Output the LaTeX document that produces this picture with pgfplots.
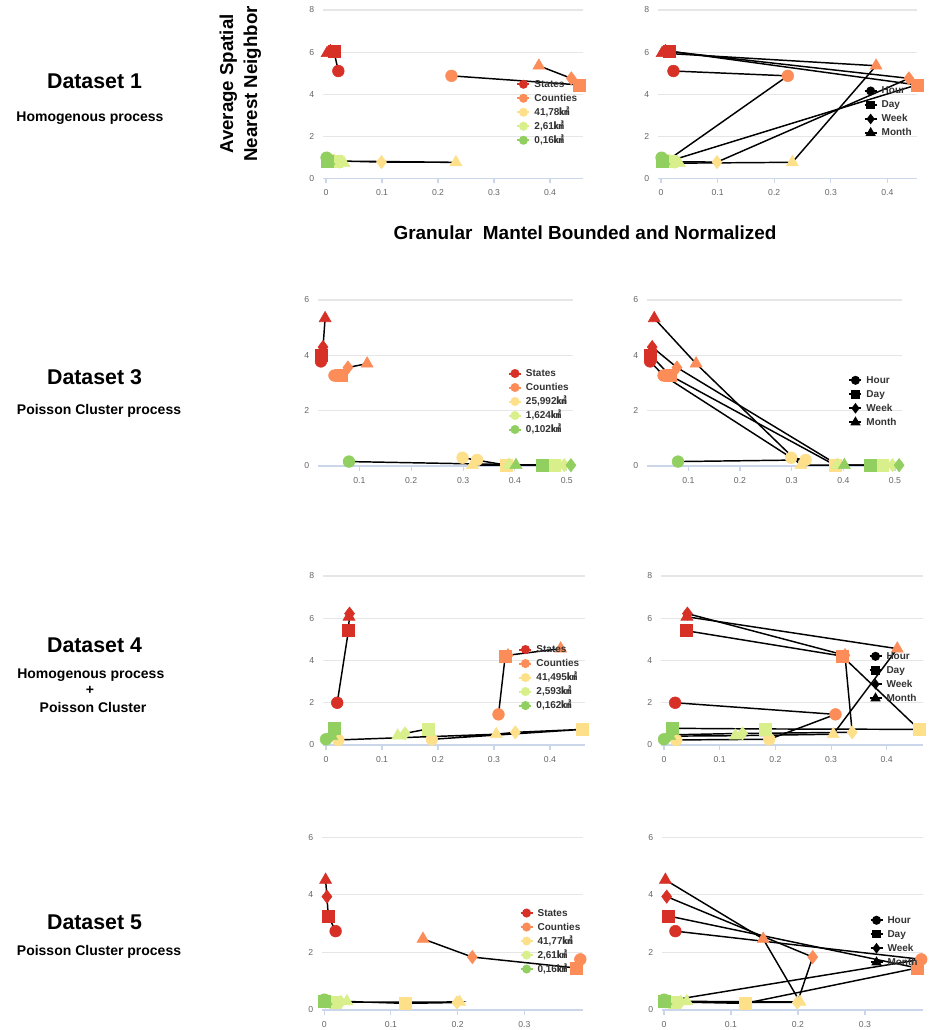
\documentclass[border=0pt]{standalone}
\usepackage{fontspec}
\setmainfont{Liberation Sans}
\newfontfamily\cjk{Noto Sans CJK KR}
\usepackage{pgfplots}
\pgfplotsset{compat=1.18}
\usepackage{pgfplotstable}

\definecolor{cS}{RGB}{215,48,39}
\definecolor{cC}{RGB}{252,141,89}
\definecolor{cY}{RGB}{254,224,139}
\definecolor{cL}{RGB}{217,239,139}
\definecolor{cG}{RGB}{145,207,96}
\definecolor{gridc}{RGB}{230,230,230}
\definecolor{axisc}{RGB}{204,214,235}
\definecolor{tickc}{RGB}{102,102,102}
\definecolor{legc}{RGB}{51,51,51}

% rows: States H D W M, Counties H D W M, large cell H D W M, middle cell, small cell
\pgfplotstableread{
x y
0.022 5.10
0.014 6.05
0.008 6.05
0.002 5.95
0.224 4.87
0.452 4.44
0.438 4.75
0.380 5.35
0.012 0.86
0.016 0.83
0.099 0.77
0.232 0.76
0.014 0.82
0.019 0.80
0.024 0.79
0.032 0.72
0.001 0.98
0.003 0.82
0.004 0.82
0.005 0.82
}\dA
\pgfplotstableread{
x y
0.026 3.78
0.027 4.00
0.030 4.30
0.034 5.34
0.052 3.27
0.065 3.27
0.078 3.56
0.115 3.70
0.299 0.30
0.384 0.03
0.390 0.03
0.318 0.03
0.327 0.22
0.475 0.03
0.495 0.03
0.388 0.03
0.080 0.16
0.453 0.03
0.508 0.03
0.402 0.03
}\dC
\pgfplotstableread{
x y
0.020 2.00
0.040 5.41
0.042 6.22
0.041 6.07
0.308 1.45
0.320 4.21
0.325 4.25
0.419 4.56
0.189 0.27
0.458 0.74
0.338 0.60
0.304 0.51
0.022 0.24
0.182 0.76
0.141 0.55
0.128 0.44
0.000 0.27
0.014 0.79
0.010 0.48
0.010 0.42
}\dD
\pgfplotstableread{
x y
0.017 2.74
0.006 3.27
0.004 3.94
0.002 4.52
0.384 1.76
0.378 1.46
0.222 1.84
0.148 2.47
0.006 0.32
0.121 0.23
0.199 0.26
0.203 0.28
0.012 0.27
0.016 0.28
0.025 0.28
0.034 0.30
0.000 0.36
0.000 0.30
0.002 0.30
0.003 0.30
}\dE

\pgfplotsset{
  base/.style={
    scale only axis, clip=false,
    axis x line*=bottom, axis y line*=left,
    y axis line style={draw=none},
    x axis line style={draw=axisc, line width=0.8pt},
    ymajorgrids, grid style={draw=gridc, line width=0.8pt},
    xtick align=outside, ytick style={draw=none},
    xtick style={draw=axisc, line width=0.8pt},
    major tick length=3.75pt,
    tick label style={font=\fontsize{6.5}{7}\selectfont, text=tickc},
    yticklabel style={xshift=-3pt},
    xticklabel style={yshift=-1pt},
    /pgf/number format/assume math mode=true,
    colormap={res}{rgb255=(215,48,39) rgb255=(252,141,89) rgb255=(254,224,139) rgb255=(217,239,139) rgb255=(145,207,96)},
    point meta min=0, point meta max=4,
    legend cell align=left,
    legend image code/.code={\draw[mark repeat=2,mark phase=2,##1] plot coordinates {(0pt,0pt) (4.5pt,0pt) (9pt,0pt)};},
    legend style={draw=none, fill=none, inner sep=0pt, anchor=north west,
      font=\bfseries\fontsize{7.5}{8}\selectfont, text=legc, row sep=2pt,
      nodes={inner sep=0.5pt, text height=6pt, text depth=1.5pt},
      /tikz/every odd column/.append style={column sep=2.5pt}},
  },
  lin/.style={black, line width=1.1pt, no marks, forget plot},
  mk/.style={scatter, only marks, forget plot, point meta={floor(\coordindex/4)},
    scatter/use mapped color={draw=mapped color, fill=mapped color}},
  legl/.style={line width=1.5pt, mark=*, mark size=2.6pt},
}

\newcommand\leftlines[1]{%
  \addplot[lin, x filter/.expression={floor(\coordindex/4)==0 ? x : nan}] table {#1};
  \addplot[lin, x filter/.expression={floor(\coordindex/4)==1 ? x : nan}] table {#1};
  \addplot[lin, x filter/.expression={floor(\coordindex/4)==2 ? x : nan}] table {#1};
  \addplot[lin, x filter/.expression={floor(\coordindex/4)==3 ? x : nan}] table {#1};
  \addplot[lin, x filter/.expression={floor(\coordindex/4)==4 ? x : nan}] table {#1};}
\newcommand\rightlines[1]{%
  \addplot[lin, x filter/.expression={mod(\coordindex,4)==0 ? x : nan}] table {#1};
  \addplot[lin, x filter/.expression={mod(\coordindex,4)==1 ? x : nan}] table {#1};
  \addplot[lin, x filter/.expression={mod(\coordindex,4)==2 ? x : nan}] table {#1};
  \addplot[lin, x filter/.expression={mod(\coordindex,4)==3 ? x : nan}] table {#1};}
\newcommand\allmarks[1]{%
  \addplot[mk, mark=*, mark size=4.4pt, x filter/.expression={mod(\coordindex,4)==0 ? x : nan}] table {#1};
  \addplot[mk, mark=square*, mark size=4.5pt, x filter/.expression={mod(\coordindex,4)==1 ? x : nan}] table {#1};
  \addplot[mk, mark=diamond*, mark size=5pt, x filter/.expression={mod(\coordindex,4)==2 ? x : nan}] table {#1};
  \addplot[mk, mark=triangle*, mark size=5.2pt, x filter/.expression={mod(\coordindex,4)==3 ? x : nan}] table {#1};}
\newcommand\reslegend[3]{%
  \addlegendimage{legl, color=cS}\addlegendentry{States}
  \addlegendimage{legl, color=cC}\addlegendentry{Counties}
  \addlegendimage{legl, color=cY}\addlegendentry{{#1}{\cjk ㎢}}
  \addlegendimage{legl, color=cL}\addlegendentry{{#2}{\cjk ㎢}}
  \addlegendimage{legl, color=cG}\addlegendentry{{#3}{\cjk ㎢}}}
\newcommand\timelegend{%
  \addlegendimage{legl, black, mark=*}\addlegendentry{Hour}
  \addlegendimage{legl, black, mark=square*, mark size=2.4pt}\addlegendentry{Day}
  \addlegendimage{legl, black, mark=diamond*, mark size=2.8pt}\addlegendentry{Week}
  \addlegendimage{legl, black, mark=triangle*, mark size=3pt}\addlegendentry{Month}}

\begin{document}
\begin{tikzpicture}
\path[use as bounding box] (0pt,0pt) rectangle (696pt,-772.5pt);

% left column texts
\node[font=\bfseries\fontsize{16}{19}\selectfont] at (70.9pt,-60.75pt) {Dataset 1};
\node[font=\fontsize{10.5}{12}\selectfont\bfseries] at (67.5pt,-88.5pt) {Homogenous process};
\node[font=\bfseries\fontsize{16}{19}\selectfont] at (70.9pt,-282.75pt) {Dataset 3};
\node[font=\fontsize{10.5}{12}\selectfont\bfseries] at (74.25pt,-308.25pt) {Poisson Cluster process};
\node[font=\bfseries\fontsize{16}{19}\selectfont] at (70.9pt,-484.1pt) {Dataset 4};
\node[font=\fontsize{10.5}{12}\selectfont\bfseries] at (68.1pt,-506.6pt) {Homogenous process};
\node[font=\fontsize{10.5}{12}\selectfont\bfseries] at (67.5pt,-517.5pt) {+};
\node[font=\fontsize{10.5}{12}\selectfont\bfseries] at (69.75pt,-530.25pt) {Poisson Cluster};
\node[font=\bfseries\fontsize{16}{19}\selectfont] at (70.9pt,-691.5pt) {Dataset 5};
\node[font=\fontsize{10.5}{12}\selectfont\bfseries] at (74.25pt,-714pt) {Poisson Cluster process};

\node[rotate=90, align=center, font=\bfseries\fontsize{14}{18}\selectfont] at (180.25pt,-63pt) {Average Spatial\\Nearest Neighbor};
\node[font=\bfseries\fontsize{14.2}{16}\selectfont] at (438.75pt,-174.75pt) {Granular\ \ Mantel Bounded and Normalized};

% Dataset 1
\begin{axis}[base, at={(242.25pt,-133.725pt)}, anchor=south west, width=195pt, height=126.225pt,
  xmin=-0.0054, xmax=0.4589, ymin=0, ymax=8, xtick={0,0.1,0.2,0.3,0.4}, ytick={0,2,4,6,8},
  legend style={at={(0.743,0.594)}}]
  \leftlines{\dA}
  \allmarks{\dA}
  \reslegend{41,78}{2,61}{0,16}
\end{axis}
\begin{axis}[base, at={(493.5pt,-133.725pt)}, anchor=south west, width=194.25pt, height=126.225pt,
  xmin=-0.0053, xmax=0.4523, ymin=0, ymax=8, xtick={0,0.1,0.2,0.3,0.4}, ytick={0,2,4,6,8},
  legend style={at={(0.793,0.554)}}]
  \allmarks{\dA}
  \rightlines{\dA}
  \timelegend
\end{axis}

% Dataset 3
\begin{axis}[base, at={(238.5pt,-349.5pt)}, anchor=south west, width=191.25pt, height=124.5pt,
  xmin=0.0203, xmax=0.512, ymin=0, ymax=6, xtick={0.1,0.2,0.3,0.4,0.5}, ytick={0,2,4,6},
  legend style={at={(0.744,0.593)}}]
  \leftlines{\dC}
  \allmarks{\dC}
  \reslegend{25,992}{1,624}{0,102}
\end{axis}
\begin{axis}[base, at={(485.25pt,-349.5pt)}, anchor=south west, width=191.25pt, height=124.5pt,
  xmin=0.020, xmax=0.5136, ymin=0, ymax=6, xtick={0.1,0.2,0.3,0.4,0.5}, ytick={0,2,4,6},
  legend style={at={(0.789,0.552)}}]
  \allmarks{\dC}
  \rightlines{\dC}
  \timelegend
\end{axis}

% Dataset 4
\begin{axis}[base, at={(242.25pt,-558.75pt)}, anchor=south west, width=196.5pt, height=126.75pt,
  xmin=-0.0054, xmax=0.4625, ymin=0, ymax=8, xtick={0,0.1,0.2,0.3,0.4}, ytick={0,2,4,6,8},
  legend style={at={(0.745,0.600)}}]
  \leftlines{\dD}
  \allmarks{\dD}
  \reslegend{41,495}{2,593}{0,162}
\end{axis}
\begin{axis}[base, at={(495.75pt,-558.75pt)}, anchor=south west, width=196.5pt, height=126.75pt,
  xmin=-0.0054, xmax=0.4652, ymin=0, ymax=8, xtick={0,0.1,0.2,0.3,0.4}, ytick={0,2,4,6,8},
  legend style={at={(0.791,0.560)}}]
  \allmarks{\dD}
  \rightlines{\dD}
  \timelegend
\end{axis}

% Dataset 5
\begin{axis}[base, at={(241.5pt,-757.5pt)}, anchor=south west, width=195.75pt, height=129.525pt,
  xmin=-0.0034, xmax=0.388, ymin=0, ymax=6, xtick={0,0.1,0.2,0.3}, ytick={0,2,4,6},
  legend style={at={(0.756,0.596)}}]
  \leftlines{\dE}
  \allmarks{\dE}
  \reslegend{41,77}{2,61}{0,16}
\end{axis}
\begin{axis}[base, at={(496.5pt,-757.5pt)}, anchor=south west, width=195.75pt, height=129.525pt,
  xmin=-0.003, xmax=0.3866, ymin=0, ymax=6, xtick={0,0.1,0.2,0.3}, ytick={0,2,4,6},
  legend style={at={(0.794,0.554)}}]
  \allmarks{\dE}
  \rightlines{\dE}
  \timelegend
\end{axis}
\end{tikzpicture}
\end{document}
